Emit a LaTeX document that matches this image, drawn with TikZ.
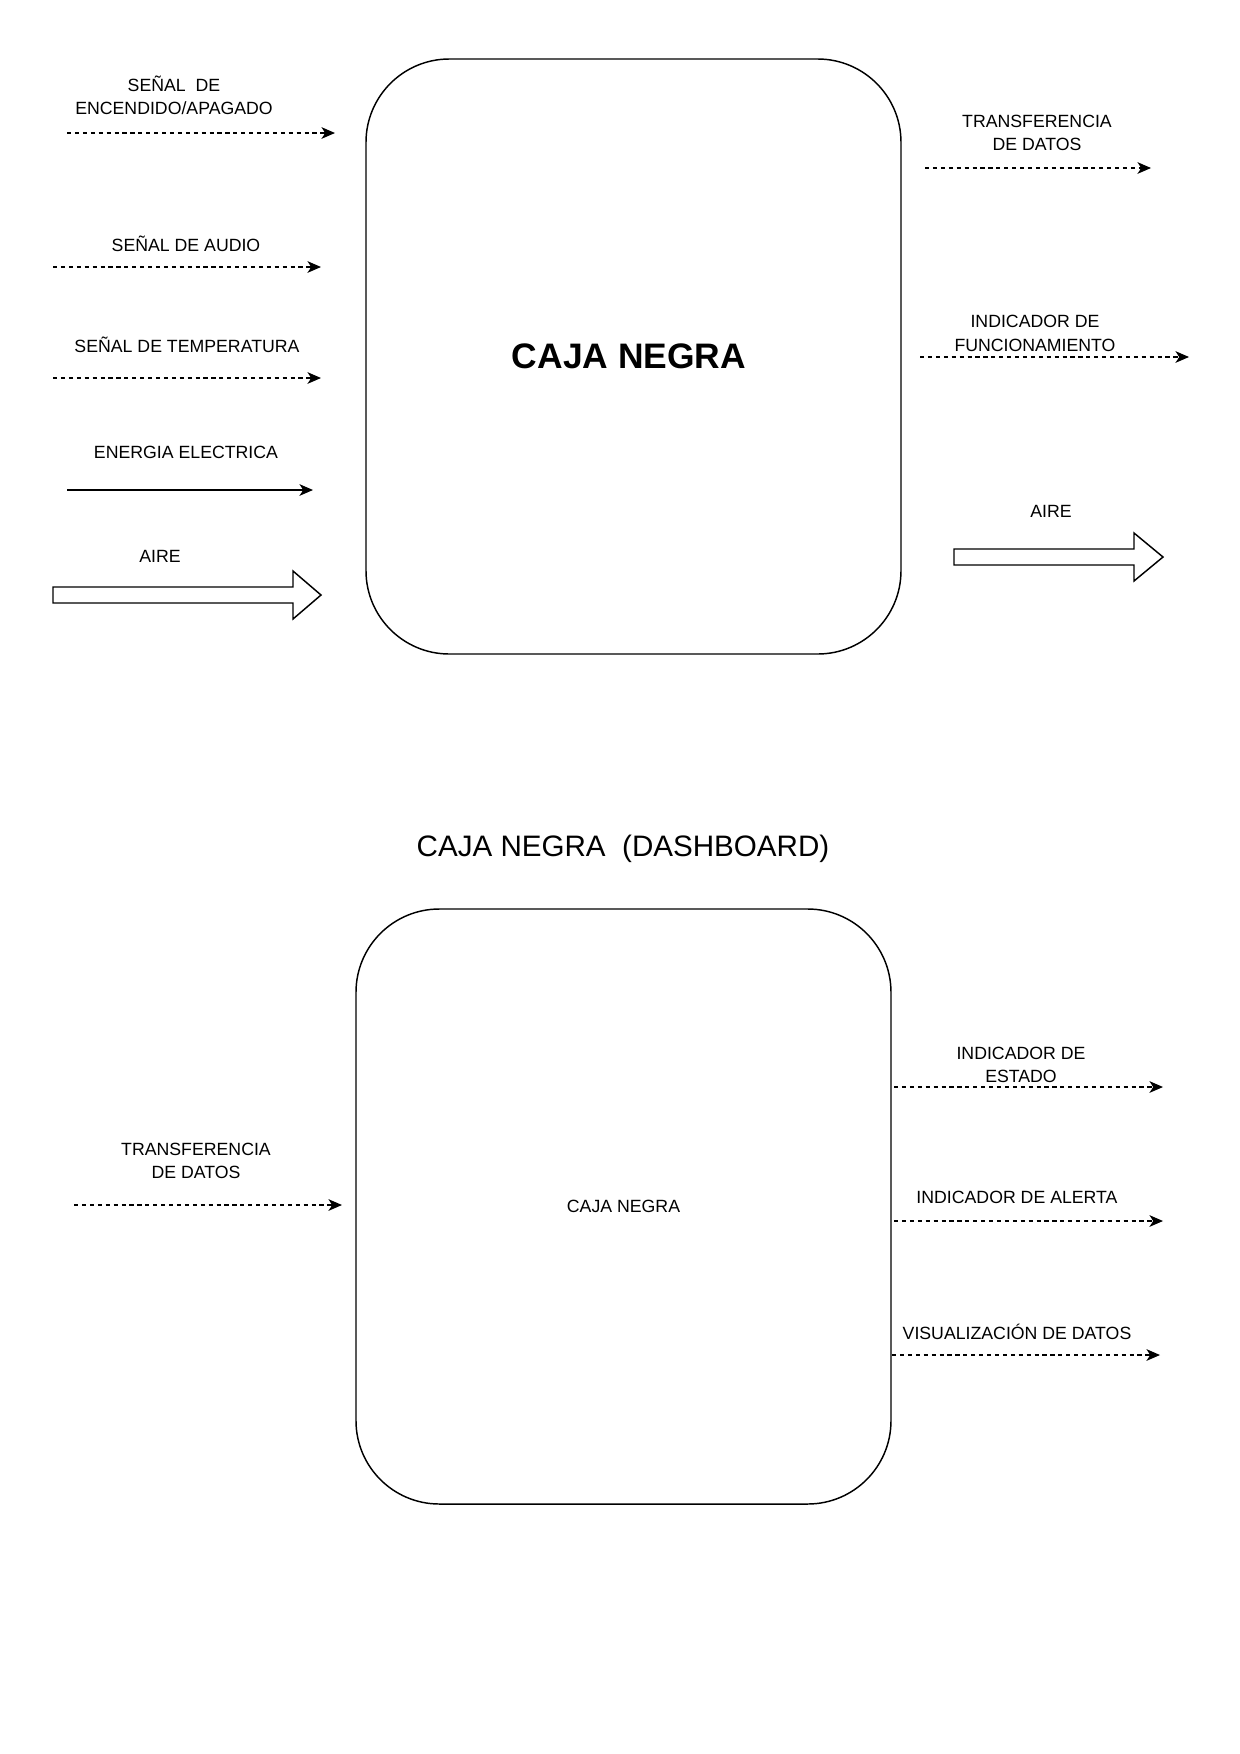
\documentclass[tikz,border=0pt]{standalone}
\usepackage{fontspec}
\setmainfont{Liberation Sans}
\usetikzlibrary{arrows.meta}

\tikzset{
	etiqueta/.style={align=center, inner sep=0pt, font=\fontsize{8.5}{11.3}\selectfont},
	senal/.style={line width=0.6pt, dash pattern=on 2pt off 1.8pt, -{Stealth[length=6.5pt,width=5.6pt,inset=1.8pt]}},
	energia/.style={line width=0.6pt, -{Stealth[length=6.5pt,width=5.6pt,inset=1.8pt]}},
	caja/.style={draw, line width=0.7pt, rounded corners=40pt, minimum width=256.8pt, minimum height=285.6pt, inner sep=0pt},
	flecha/.style={draw, line width=0.7pt, fill=white}
}

\begin{document}
\begin{tikzpicture}[x=0.48pt, y=-0.48pt]
\useasboundingbox (0,0) rectangle (1240,1754);

% caja negra principal
\node[caja] (caja1) at (633.5,356.5) {};
\node[font=\fontsize{17}{20}\selectfont\bfseries, inner sep=0pt] (tcaja1) at (629,356.5) {CAJA NEGRA};

% entradas
\node[etiqueta] (lencendido) at (174,95.5) {SEÑAL\ \ DE\\ENCENDIDO/APAGADO};
\coordinate (encendidoA) at (67,133);
\coordinate (encendidoB) at (335,133);
\draw[senal] (encendidoA) -- (encendidoB);

\node[etiqueta] (laudio) at (186,244) {SEÑAL DE AUDIO};
\coordinate (audioA) at (53,267);
\coordinate (audioB) at (321,267);
\draw[senal] (audioA) -- (audioB);

\node[etiqueta] (ltemp) at (187,345) {SEÑAL DE TEMPERATURA};
\coordinate (tempA) at (53,378);
\coordinate (tempB) at (321,378);
\draw[senal] (tempA) -- (tempB);

\node[etiqueta] (lenergia) at (186,452) {ENERGIA ELECTRICA};
\coordinate (energiaA) at (67,490);
\coordinate (energiaB) at (313,490);
\draw[energia] (energiaA) -- (energiaB);

\node[etiqueta] (laire1) at (160,556) {AIRE};
\coordinate (aire1) at (53,595);
\draw[flecha] (aire1) ++(0,-8) -- ++(240,0) -- ++(0,-16) -- ++(28,24)
	-- ++(-28,24) -- ++(0,-16) -- ++(-240,0) -- cycle;

% salidas
\node[etiqueta] (ldatos1) at (1037,133) {TRANSFERENCIA\\DE DATOS};
\coordinate (datos1A) at (925,168);
\coordinate (datos1B) at (1151,168);
\draw[senal] (datos1A) -- (datos1B);

\node[etiqueta] (lfuncion) at (1035,333.5) {INDICADOR DE\\FUNCIONAMIENTO};
\coordinate (funcionA) at (920,357);
\coordinate (funcionB) at (1189,357);
\draw[senal] (funcionA) -- (funcionB);

\node[etiqueta] (laire2) at (1051,511) {AIRE};
\coordinate (aire2) at (954,557);
\draw[flecha] (aire2) ++(0,-8) -- ++(180,0) -- ++(0,-16) -- ++(29,24)
	-- ++(-29,24) -- ++(0,-16) -- ++(-180,0) -- cycle;

% caja negra dashboard
\node[font=\fontsize{14.2}{17}\selectfont, inner sep=0pt] (titulo) at (623,849) {CAJA NEGRA\ \ (DASHBOARD)};
\node[caja, font=\fontsize{8.5}{10}\selectfont] (caja2) at (623.5,1206.5) {CAJA NEGRA};

\node[etiqueta] (ldatos2) at (196,1161) {TRANSFERENCIA\\DE DATOS};
\coordinate (datos2A) at (74,1205);
\coordinate (datos2B) at (342,1205);
\draw[senal] (datos2A) -- (datos2B);

\node[etiqueta] (lestado) at (1021,1065) {INDICADOR DE\\ESTADO};
\coordinate (estadoA) at (894,1087);
\coordinate (estadoB) at (1163,1087);
\draw[senal] (estadoA) -- (estadoB);

\node[etiqueta] (lalerta) at (1017,1197) {INDICADOR DE ALERTA};
\coordinate (alertaA) at (894,1221);
\coordinate (alertaB) at (1163,1221);
\draw[senal] (alertaA) -- (alertaB);

\node[etiqueta] (lvisual) at (1017,1332) {VISUALIZACIÓN DE DATOS};
\coordinate (visualA) at (892,1355);
\coordinate (visualB) at (1160,1355);
\draw[senal] (visualA) -- (visualB);
\end{tikzpicture}
\end{document}
